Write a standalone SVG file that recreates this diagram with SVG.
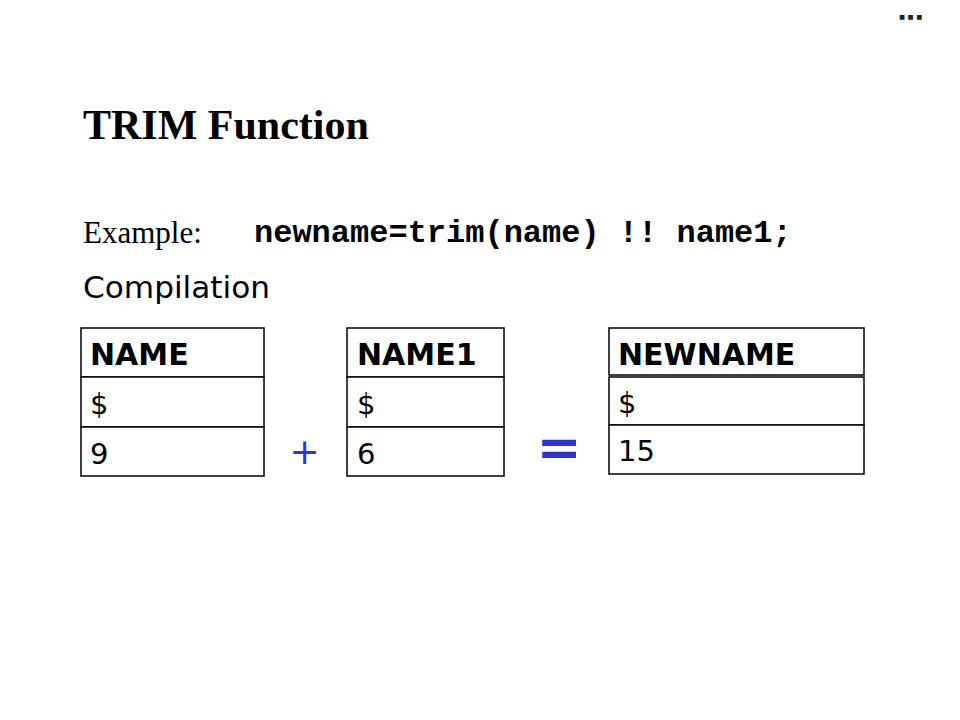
<svg xmlns="http://www.w3.org/2000/svg" width="960" height="720" viewBox="0 0 960 720">
<style>
.cell{fill:#fff;stroke:#000;stroke-width:1.5}
.hdr{font-family:"DejaVu Sans",Verdana,sans-serif;font-weight:bold;font-size:30px;fill:#000}
.val{font-family:"DejaVu Sans",Verdana,sans-serif;font-size:29px;fill:#000}
.op{font-family:"DejaVu Sans",sans-serif;fill:#3333cc}
</style>
<rect width="960" height="720" fill="#fff"/>
<text x="899" y="19" font-family="Liberation Sans,Arial,sans-serif" font-weight="bold" font-size="22" letter-spacing="2.5" fill="#222" stroke="#222" stroke-width="1.6">...</text>
<text x="83" y="139" font-family="Liberation Serif,Times New Roman,serif" font-weight="bold" font-size="42" fill="#000">TRIM Function</text>
<text x="83" y="243" font-family="Liberation Serif,Times New Roman,serif" font-size="31" fill="#000">Example:</text>
<text x="254" y="242" font-family="Liberation Mono,Courier New,monospace" font-weight="bold" font-size="32" fill="#000">newname=trim(name) !! name1;</text>
<text x="83" y="298" font-family="DejaVu Sans,Verdana,sans-serif" font-size="30" textLength="187" lengthAdjust="spacingAndGlyphs" fill="#000">Compilation</text>

<g id="name">
<rect class="cell" x="81" y="328" width="183" height="49"/>
<rect class="cell" x="81" y="377" width="183" height="50"/>
<rect class="cell" x="81" y="427" width="183" height="49"/>
<text class="hdr" x="90" y="365">NAME</text>
<text class="val" x="90" y="414">$</text>
<text class="val" x="90" y="464">9</text>
</g>
<g id="name1">
<rect class="cell" x="347" y="328" width="157" height="49"/>
<rect class="cell" x="347" y="377" width="157" height="50"/>
<rect class="cell" x="347" y="427" width="157" height="49"/>
<text class="hdr" x="357" y="365">NAME1</text>
<text class="val" x="357" y="414">$</text>
<text class="val" x="357" y="464">6</text>
</g>
<g id="newname">
<rect class="cell" x="609" y="328" width="255" height="47"/>
<rect class="cell" x="609" y="377" width="255" height="48"/>
<rect class="cell" x="609" y="425" width="255" height="49"/>
<text class="hdr" x="618" y="365">NEWNAME</text>
<text class="val" x="618" y="413">$</text>
<text class="val" x="618" y="461">15</text>
</g>
<g id="connectors">
<text class="op" x="304.5" y="464" font-size="36" text-anchor="middle">+</text>
<text class="op" x="559" y="466" font-size="54" font-weight="bold" text-anchor="middle">=</text>
</g>
</svg>
